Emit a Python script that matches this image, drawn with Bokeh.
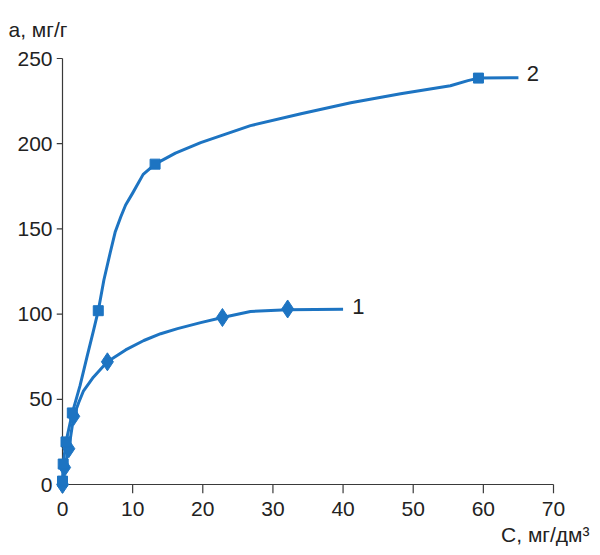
from bokeh.plotting import figure
from bokeh.models import Range1d, FixedTicker, Label, LinearAxis, Title
from bokeh.embed import file_html
from bokeh.resources import INLINE

# Curve 1 (diamond markers)
c1_x = [0, 0.3, 0.9, 1.6, 6.4, 22.8, 32.1]
c1_y = [0, 10, 21, 40, 72, 98, 103]
# Curve 1 drawn path
c1_line_x = [0, 0.3, 0.9, 1.6, 2.3, 3.0, 4.4, 6.4, 9.0, 11.6, 14.0, 16.4, 19.7, 22.8, 26.8, 32.1, 40.0]
c1_line_y = [0, 10, 21, 40, 48, 55, 63, 72, 79, 84.5, 88.5, 91.5, 95, 98, 101.5, 102.6, 102.8]

# Curve 2 (square markers)
c2_x = [0, 0.1, 0.5, 1.4, 5.1, 13.2, 59.3]
c2_y = [2, 12, 25, 42, 102, 188, 238.5]
# Curve 2 drawn path
c2_line_x = [0, 0.1, 0.5, 1.4, 2.5, 3.5, 4.4, 5.1, 5.9, 6.8, 7.5, 8.3, 9.0, 10.0, 11.5, 13.2,
             16.1, 19.7, 26.8, 34.0, 41.1, 48.2, 55.3, 57.8, 59.3, 65.0]
c2_line_y = [2, 12, 25, 42, 58, 75, 90, 102, 120, 136, 148, 157, 164, 171, 182, 188,
             194.5, 200.6, 210.6, 217.6, 224, 229.3, 234, 237, 238.5, 238.7]

x_ticks = [0, 10, 20, 30, 40, 50, 60, 70]
y_ticks = [0, 50, 100, 150, 200, 250]

BLUE = "#1d74c2"
TXT = "#222222"
AX = "#3a3a3a"
FONT = "Liberation Sans"

W, H = 600, 555
BL, BR, BT, BB = 56, 11, 51, 62
FW, FH = W - BL - BR, H - BT - BB
XS = 491.0 / 70.0              # px per x unit
YS = 426.0 / 250.0             # px per y unit
X0 = -6.0 / XS                  # x = 0 sits 6 px right of the frame edge
X1 = X0 + FW / XS
Y0 = -((H - BB) - 484.0) / YS   # y = 0 sits 9 px above the frame bottom
Y1 = Y0 + FH / YS

p = figure(width=W, height=H, output_backend="svg", toolbar_location=None,
           x_range=Range1d(X0, X1), y_range=Range1d(Y0, Y1),
           x_axis_location=None, y_axis_location=None,
           min_border_left=BL, min_border_right=BR, min_border_top=BT, min_border_bottom=BB)
p.outline_line_color = None
p.grid.visible = False
p.background_fill_color = "white"

# Tick labels (axes on the frame edges, lines hidden)
xlab = LinearAxis(bounds=(0, 70), ticker=FixedTicker(ticks=x_ticks),
                  major_tick_out=0, major_tick_in=0, major_label_standoff=8)
ylab = LinearAxis(bounds=(0, 250), ticker=FixedTicker(ticks=y_ticks),
                  major_tick_out=0, major_tick_in=0, major_label_standoff=4)
for ax in (xlab, ylab):
    ax.axis_line_color = None
    ax.major_tick_line_color = None
    ax.minor_tick_line_color = None
    ax.major_label_text_font = FONT
    ax.major_label_text_font_size = "21px"
    ax.major_label_text_color = TXT
p.add_layout(xlab, "below")
p.add_layout(ylab, "left")

# Axis lines through the origin, with outward ticks
p.segment(x0=[0, 0], y0=[0, 0], x1=[x_ticks[-1], 0], y1=[0, y_ticks[-1]],
          line_color=AX, line_width=1.2)
p.segment(x0=x_ticks, y0=[0] * len(x_ticks), x1=x_ticks, y1=[-9.0 / YS] * len(x_ticks),
          line_color=AX, line_width=1.2)
p.segment(x0=[0] * len(y_ticks), y0=y_ticks, x1=[-6.0 / XS] * len(y_ticks), y1=y_ticks,
          line_color=AX, line_width=1.2)

p.line(c1_line_x, c1_line_y, line_color=BLUE, line_width=3, line_join="round")
p.line(c2_line_x, c2_line_y, line_color=BLUE, line_width=3, line_join="round")
p.scatter(c1_x, c1_y, marker="diamond", size=18, fill_color=BLUE, line_color=BLUE)
p.scatter(c2_x, c2_y, marker="square", size=10, fill_color=BLUE, line_color=BLUE)

p.add_layout(Label(x=41.3, y=104.5, text="1", text_font=FONT, text_font_size="22px",
                   text_color=TXT, text_baseline="middle"))
p.add_layout(Label(x=66.2, y=241.2, text="2", text_font=FONT, text_font_size="22px",
                   text_color=TXT, text_baseline="middle"))

p.add_layout(Title(text="a, мг/г", align="left", offset=-48, standoff=22,
                   text_font=FONT, text_font_size="21px", text_font_style="normal",
                   text_color=TXT), "above")
p.add_layout(Title(text="C, мг/дм³", align="right", offset=0, standoff=5,
                   text_font=FONT, text_font_size="21px", text_font_style="normal",
                   text_color=TXT), "below")

open("out.html", "w").write(file_html(p, INLINE))
